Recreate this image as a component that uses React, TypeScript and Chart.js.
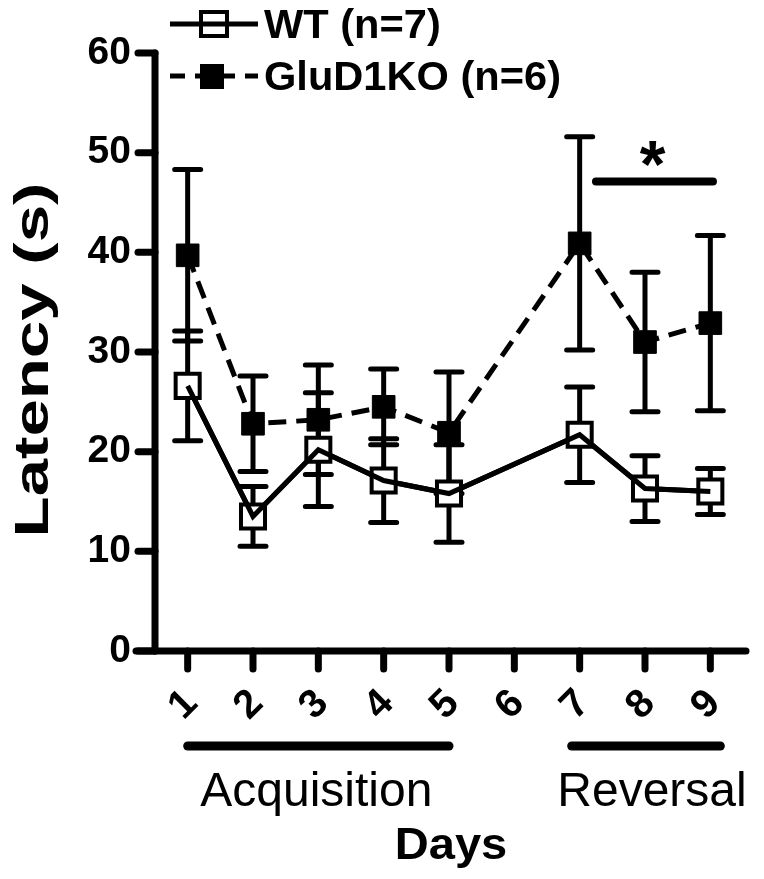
import React, { useEffect, useRef } from 'react';
import { Chart, registerables } from 'chart.js';

Chart.register(...registerables);

// ---------- data ----------
const days = ['1', '2', '3', '4', '5', '6', '7', '8', '9'];
const wtMean = [26.6, 13.5, 20.2, 17.1, 15.8, null, 21.7, 16.3, 16.0];
const wtSem = [5.5, 3.0, 5.7, 4.2, 4.9, null, 4.8, 3.3, 2.3];
const koMean = [39.7, 22.8, 23.2, 24.5, 21.9, null, 40.9, 31.0, 32.9];
const koSem = [8.6, 4.8, 5.5, 3.8, 6.1, null, 10.7, 7.0, 8.8];
const yTicks = [0, 10, 20, 30, 40, 50, 60];
const seriesLabels = ['WT (n=7)', 'GluD1KO (n=6)'];
const phaseLabels = ['Acquisition', 'Reversal'];
const phaseFrom = ['1', '7'];
const phaseTo = ['5', '9'];
const sigFrom = 6.25; // category position (between day 7 and 8)
const sigTo = 8.04; // day 9
const sigLevel = 47.1;
const sigMark = '*';
const yTitle = 'Latency (s)';
const xTitle = 'Days';

// ---------- styles ----------
const FONT = '"Liberation Sans", Arial, Helvetica, sans-serif';
const phasePad = [
  [0, 0],
  [-8, 10],
];
const phaseTextShift = [-2, 6];

function drawText(
  ctx: CanvasRenderingContext2D,
  text: string,
  x: number,
  y: number,
  font: string,
  align: CanvasTextAlign,
  baseline: CanvasTextBaseline,
  sx = 1,
  rot = 0
) {
  ctx.save();
  ctx.translate(x, y);
  if (rot) ctx.rotate(rot);
  ctx.scale(sx, 1);
  ctx.font = font;
  ctx.textAlign = align;
  ctx.textBaseline = baseline;
  ctx.fillStyle = '#000';
  ctx.fillText(text, 0, 0);
  ctx.restore();
}

const decor = {
  id: 'decor',
  beforeDatasetsDraw(chart: any) {
    const ctx = chart.ctx as CanvasRenderingContext2D;
    const xs = chart.scales.x;
    const ys = chart.scales.y;
    ctx.save();
    ctx.strokeStyle = '#000';
    ctx.lineWidth = 5;
    ctx.lineCap = 'round';
    const groups: [(number | null)[], (number | null)[]][] = [
      [wtMean, wtSem],
      [koMean, koSem],
    ];
    groups.forEach(([m, s]) => {
      m.forEach((v, i) => {
        if (v == null || s[i] == null) return;
        const px = xs.getPixelForValue(i);
        const top = ys.getPixelForValue(v + (s[i] as number));
        const bot = ys.getPixelForValue(v - (s[i] as number));
        ctx.beginPath();
        ctx.moveTo(px, top);
        ctx.lineTo(px, bot);
        ctx.moveTo(px - 13, top);
        ctx.lineTo(px + 13, top);
        ctx.moveTo(px - 13, bot);
        ctx.lineTo(px + 13, bot);
        ctx.stroke();
      });
    });
    ctx.restore();
  },
  afterDatasetsDraw(chart: any) {
    // connecting WT line is visible through its open squares
    const meta = chart.getDatasetMeta(0);
    meta.dataset.draw(chart.ctx, chart.chartArea);
  },
  afterDraw(chart: any) {
    const ctx = chart.ctx as CanvasRenderingContext2D;
    const xs = chart.scales.x;
    const ys = chart.scales.y;
    const { left, right, top, bottom } = chart.chartArea;
    ctx.save();
    ctx.strokeStyle = '#000';
    ctx.fillStyle = '#000';
    ctx.lineCap = 'round';
    ctx.lineWidth = 7;
    // y axis
    ctx.beginPath();
    ctx.moveTo(left, top);
    ctx.lineTo(left, bottom);
    ctx.stroke();
    // x axis
    ctx.beginPath();
    ctx.moveTo(left - 19, bottom);
    ctx.lineTo(right + 3, bottom);
    ctx.stroke();
    // y ticks
    ys.ticks.forEach((t: any) => {
      const py = ys.getPixelForValue(t.value);
      ctx.beginPath();
      ctx.moveTo(left - 17, py);
      ctx.lineTo(left, py);
      ctx.stroke();
    });
    // x ticks + rotated labels
    const labels: string[] = xs.getLabels();
    labels.forEach((lab, i) => {
      const px = xs.getPixelForValue(i);
      ctx.beginPath();
      ctx.moveTo(px, bottom);
      ctx.lineTo(px, bottom + 18);
      ctx.stroke();
      drawText(ctx, lab, px - 4, bottom + 54, `bold 40px ${FONT}`, 'center', 'middle', 1, -Math.PI / 4);
    });
    // phase bars + labels
    ctx.lineWidth = 9;
    phaseLabels.forEach((lab, k) => {
      const x1 = xs.getPixelForValue(labels.indexOf(phaseFrom[k])) + phasePad[k][0];
      const x2 = xs.getPixelForValue(labels.indexOf(phaseTo[k])) + phasePad[k][1];
      const y = bottom + 95;
      ctx.beginPath();
      ctx.moveTo(x1, y);
      ctx.lineTo(x2, y);
      ctx.stroke();
      drawText(ctx, lab, (x1 + x2) / 2 + phaseTextShift[k], bottom + 155, `48px ${FONT}`, 'center', 'alphabetic', 1.0);
    });
    // x title
    drawText(ctx, xTitle, (left + right) / 2 + 2, bottom + 208, `bold 44px ${FONT}`, 'center', 'alphabetic', 1.07);
    // y title
    drawText(ctx, yTitle, 48, (top + bottom) / 2 + 8, `bold 48px ${FONT}`, 'center', 'alphabetic', 1.4, -Math.PI / 2);
    // significance
    ctx.lineWidth = 8;
    const sy = ys.getPixelForValue(sigLevel);
    const sx1 = xs.getPixelForValue(sigFrom);
    const sx2 = xs.getPixelForValue(sigTo);
    ctx.beginPath();
    ctx.moveTo(sx1, sy);
    ctx.lineTo(sx2, sy);
    ctx.stroke();
    ctx.font = `bold 66px ${FONT}`;
    const m = ctx.measureText(sigMark);
    const inkMid = (m.actualBoundingBoxAscent - m.actualBoundingBoxDescent) / 2;
    drawText(ctx, sigMark, (sx1 + sx2) / 2 - 2, sy - 28 + inkMid, `bold 66px ${FONT}`, 'center', 'alphabetic');
    // legend
    const rows = [24, 76];
    rows.forEach((ry, k) => {
      ctx.save();
      ctx.lineCap = 'butt';
      ctx.lineWidth = 5;
      if (k === 1) ctx.setLineDash([15, 10]);
      ctx.beginPath();
      ctx.moveTo(170, ry);
      ctx.lineTo(258, ry);
      ctx.stroke();
      ctx.setLineDash([]);
      if (k === 0) {
        ctx.fillStyle = '#fff';
        ctx.fillRect(201, ry - 12, 26, 24);
        ctx.lineWidth = 4;
        ctx.strokeRect(201, ry - 12, 26, 24);
        ctx.beginPath();
        ctx.moveTo(201, ry);
        ctx.lineTo(227, ry);
        ctx.lineWidth = 5;
        ctx.stroke();
      } else {
        ctx.fillStyle = '#000';
        ctx.fillRect(200, ry - 12, 24, 25);
      }
      ctx.restore();
      drawText(ctx, seriesLabels[k], 264, ry + 14, `bold 40px ${FONT}`, 'left', 'alphabetic', 1.04);
    });
    ctx.restore();
  },
};

export default function App() {
  const ref = useRef<HTMLCanvasElement>(null);
  useEffect(() => {
    if (!ref.current) return;
    const chart = new Chart(ref.current, {
      type: 'line',
      data: {
        labels: days,
        datasets: [
          {
            label: seriesLabels[0],
            data: wtMean,
            borderColor: '#000',
            borderWidth: 5,
            pointStyle: 'rect',
            pointRadius: 17,
            pointBorderWidth: 4,
            pointBackgroundColor: '#fff',
            pointBorderColor: '#000',
            spanGaps: true,
            tension: 0,
            clip: false,
          } as any,
          {
            label: seriesLabels[1],
            data: koMean,
            borderColor: '#000',
            borderWidth: 5,
            borderDash: [18, 10],
            pointStyle: 'rect',
            pointRadius: 16,
            pointBorderWidth: 1,
            pointBackgroundColor: '#000',
            pointBorderColor: '#000',
            spanGaps: true,
            tension: 0,
            clip: false,
          } as any,
        ],
      },
      options: {
        responsive: false,
        animation: false,
        devicePixelRatio: 1,
        events: [],
        layout: { padding: { left: 0, top: 53, right: 13, bottom: 0 } },
        plugins: { legend: { display: false }, tooltip: { enabled: false } },
        scales: {
          x: {
            type: 'category',
            offset: true,
            grid: { display: false, drawTicks: false },
            border: { display: false },
            ticks: { display: false },
            afterFit: (s: any) => {
              s.height = 228;
            },
          },
          y: {
            min: yTicks[0],
            max: yTicks[yTicks.length - 1],
            grid: { display: false, drawTicks: false },
            border: { display: false },
            ticks: {
              padding: 24,
              color: '#000',
              font: { family: FONT, size: 39, weight: 'bold' },
            },
            afterBuildTicks: (s: any) => {
              s.ticks = yTicks.map((v) => ({ value: v }));
            },
            afterFit: (s: any) => {
              s.width = 155;
            },
          },
        },
      } as any,
      plugins: [decor],
    });
    return () => chart.destroy();
  }, []);
  return (
    <div style={{ position: 'absolute', left: 0, top: 0, width: 764, height: 879, background: '#fff' }}>
      <canvas ref={ref} width={764} height={879} style={{ display: 'block' }} />
    </div>
  );
}
